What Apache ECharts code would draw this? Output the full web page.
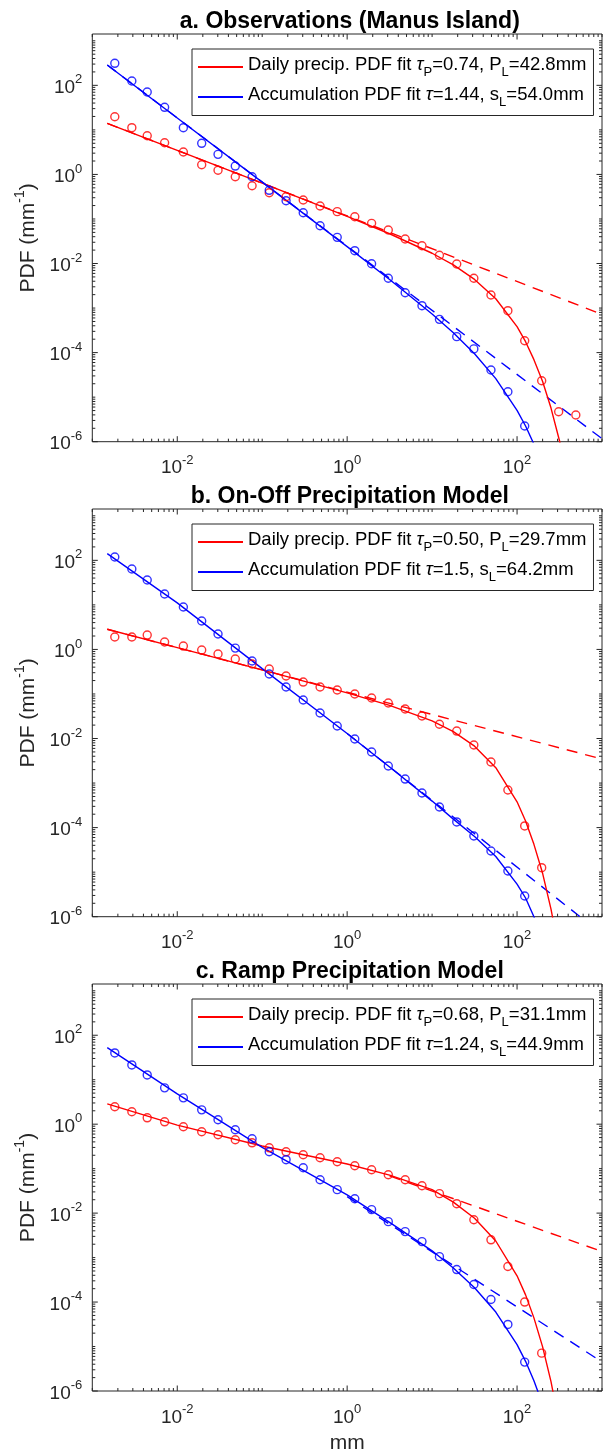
<!DOCTYPE html>
<html><head><meta charset="utf-8">
<script src="https://cdn.jsdelivr.net/npm/echarts@6/dist/echarts.min.js"></script>
<style>html,body{margin:0;padding:0;background:#fff}#c{width:605px;height:1455px}</style>
</head><body><div id="c"></div>
<script>
// ---------------- data ----------------
const binX = [0.00184, 0.00292, 0.00443, 0.0071, 0.0118, 0.0194, 0.0302, 0.0482, 0.076, 0.121, 0.191, 0.304, 0.48, 0.764, 1.23, 1.94, 3.05, 4.82, 7.6, 12.2, 19.5, 31.0, 49.3, 78.0, 123, 195, 309, 492];
const fitX = [0.0015, 0.01, 0.1, 1, 3.16, 10, 17.8, 31.6, 56.2, 100, 126, 158, 200, 251, 316, 398];

// a. Observations
const aDailyObs = [19.7, 11.2, 7.4, 5.15, 3.18, 1.65, 1.24, 0.887, 0.557, 0.388, 0.316, 0.266, 0.195, 0.146, 0.112, 0.0798, 0.0565, 0.0355, 0.0251, 0.0153, 0.00975, 0.00466, 0.00196, 8.73e-4, 1.85e-4, 2.34e-5, 4.71e-6, 3.97e-6];
const aAccObs = [312, 125, 70.8, 32.1, 11.2, 4.99, 2.82, 1.54, 0.887, 0.44, 0.257, 0.138, 0.0705, 0.0387, 0.0194, 0.0099, 0.00466, 0.00221, 0.00113, 5.58e-4, 2.28e-4, 1.21e-4, 4.06e-5, 1.32e-5, 2.25e-6];
const aDailyFit = [14.0, 3.47, 0.635, 0.114, 0.0466, 0.017, 0.00929, 0.0044, 0.00162, 3.82e-4, 1.76e-4, 6.95e-5, 2.25e-5, 5.69e-6, 1.05e-6, 1.3e-7];
const aAccFit = [286, 18.5, 0.671, 0.024, 0.00439, 7.38e-4, 2.79e-4, 9.42e-5, 2.61e-5, 5.06e-6, 2.25e-6, 8.8e-7, 2.9e-7, 5e-8, 5e-9, 1e-10];
const aDailyPowX = [0.0015, 1000], aDailyPow = [14.0, 7.24e-4];
const aAccPowX = [0.0015, 1000], aAccPow = [286, 1.17e-6];

// b. On-Off model
const bDailyObs = [1.9, 1.9, 2.1, 1.47, 1.19, 0.968, 0.789, 0.61, 0.47, 0.363, 0.253, 0.185, 0.143, 0.123, 0.0998, 0.0811, 0.0627, 0.0459, 0.032, 0.0209, 0.0147, 0.00714, 0.00297, 6.98e-4, 1.09e-4, 1.26e-5];
const bAccObs = [119, 63.8, 36.1, 17.5, 8.95, 4.34, 2.22, 1.07, 0.55, 0.281, 0.143, 0.0731, 0.0373, 0.0191, 0.00975, 0.00498, 0.00242, 0.00123, 5.98e-4, 2.9e-4, 1.34e-4, 6.47e-5, 2.99e-5, 1.06e-5, 2.92e-6];
const bDailyFit = [2.83, 1.1, 0.347, 0.106, 0.0555, 0.0248, 0.0143, 0.00673, 0.00221, 3.79e-4, 1.41e-4, 4.21e-5, 9.42e-6, 1.48e-6, 1.5e-7, 1e-9];
const bAccFit = [141, 11.1, 0.371, 0.013, 0.0023, 3.94e-4, 1.55e-4, 6.3e-5, 2.24e-5, 5.4e-6, 2.63e-6, 1.0e-6, 3.2e-7, 1e-8, 1e-9, 1e-10];
const bDailyPowX = [0.0015, 1000], bDailyPow = [2.83, 3.47e-3];
const bAccPowX = [1, 1000], bAccPow = [0.013, 4.1e-7];

// c. Ramp model
const cDailyObs = [2.46, 1.9, 1.39, 1.13, 0.875, 0.675, 0.578, 0.447, 0.381, 0.294, 0.239, 0.205, 0.176, 0.143, 0.116, 0.0944, 0.0729, 0.0564, 0.0413, 0.0274, 0.0163, 0.00708, 0.00251, 6.3e-4, 1.0e-4, 7.1e-6];
const cAccObs = [40.0, 21.5, 12.8, 6.56, 3.91, 2.1, 1.26, 0.748, 0.47, 0.24, 0.159, 0.105, 0.0564, 0.0337, 0.0211, 0.012, 0.00643, 0.00384, 0.00229, 0.00105, 5.38e-4, 2.48e-4, 1.14e-4, 3.14e-5, 4.47e-6];
const cDailyFit = [2.87, 0.955, 0.324, 0.127, 0.0714, 0.0337, 0.0177, 0.00767, 0.00236, 3.89e-4, 1.45e-4, 4.41e-5, 9.8e-6, 1.62e-6, 1.7e-7, 1e-9];
const cAccFit = [52.5, 4.79, 0.302, 0.0257, 0.00617, 0.00142, 5.85e-4, 2.1e-4, 5.97e-5, 1.1e-5, 4.65e-6, 1.7e-6, 5e-7, 1e-8, 1e-9, 1e-10];
const cDailyPowX = [3.16, 1000], cDailyPow = [0.0686, 1.37e-3];
const cAccPowX = [1, 1000], cAccPow = [0.0235, 4.48e-6];

const titles = ['a. Observations (Manus Island)', 'b. On-Off Precipitation Model', 'c. Ramp Precipitation Model'];
const legendDaily = [['0.74', '42.8'], ['0.50', '29.7'], ['0.68', '31.1']];
const legendAcc = [['1.44', '54.0'], ['1.5', '64.2'], ['1.24', '44.9']];
const xLabelExps = [-2, 0, 2];
const yLabelExps = [-6, -4, -2, 0, 2];

// ---------------- layout ----------------
const X_MIN = 0.001, X_MAX = 1000, Y_MIN = 1e-6, Y_MAX = 1420;
const GL = 92.3, GW = 515, GH = 407.7, STEP = 475, TOP0 = 34;
const FONT = '"Liberation Sans", Arial, Helvetica, sans-serif';
const RED = '#ff0000', BLUE = '#0000ff', AX = '#262626';

const zip = (xs, ys) => ys.map((y, i) => [xs[i], y]);
function supLabel(v, exps) {
  const l = Math.log10(v), e = Math.round(l);
  if (Math.abs(l - e) > 1e-6 || exps.indexOf(e) < 0) return '';
  return '{b|10}{s|' + e + '}';
}
const supRich = {
  b: {fontSize: 19, fontFamily: FONT, color: AX, lineHeight: 24, verticalAlign: 'bottom'},
  s: {fontSize: 13, fontFamily: FONT, color: AX, verticalAlign: 'top'}
};

// tick positions
const mult = [1, 2, 3, 4, 5, 6, 7, 8, 9];
const tickData = [];
for (let e = -3; e <= 3; e++) {
  for (const m of mult) {
    const v = m * Math.pow(10, e);
    if (v > X_MAX * 1.0001) continue;
    tickData.push([v, Y_MIN, 0, (m === 1 && xLabelExps.indexOf(e) >= 0) ? 1 : 0]);
  }
}
for (let e = -6; e <= 3; e++) {
  for (const m of mult) {
    const v = m * Math.pow(10, e);
    if (v > Y_MAX) continue;
    tickData.push([X_MIN, v, 1, (m === 1 && yLabelExps.indexOf(e) >= 0) ? 1 : 0]);
  }
}

function renderTick(params, api) {
  const kind = api.value(2), major = api.value(3);
  const len = major ? 5.5 : 3;
  const st = {stroke: AX, lineWidth: 1};
  if (kind === 0) {
    const v = api.value(0);
    const pb = api.coord([v, Y_MIN]), pt = api.coord([v, Y_MAX]);
    return {type: 'group', children: [
      {type: 'line', shape: {x1: pb[0], y1: pb[1], x2: pb[0], y2: pb[1] - len}, style: st},
      {type: 'line', shape: {x1: pt[0], y1: pt[1], x2: pt[0], y2: pt[1] + len}, style: st}
    ]};
  } else {
    const v = api.value(1);
    const pl = api.coord([X_MIN, v]), pr = api.coord([X_MAX, v]);
    return {type: 'group', children: [
      {type: 'line', shape: {x1: pl[0], y1: pl[1], x2: pl[0] + len, y2: pl[1]}, style: st},
      {type: 'line', shape: {x1: pr[0], y1: pr[1], x2: pr[0] - len, y2: pr[1]}, style: st}
    ]};
  }
}

const panels = [
  {dObs: aDailyObs, aObs: aAccObs, dFit: aDailyFit, aFit: aAccFit, dPow: zip(aDailyPowX, aDailyPow), aPow: zip(aAccPowX, aAccPow)},
  {dObs: bDailyObs, aObs: bAccObs, dFit: bDailyFit, aFit: bAccFit, dPow: zip(bDailyPowX, bDailyPow), aPow: zip(bAccPowX, bAccPow)},
  {dObs: cDailyObs, aObs: cAccObs, dFit: cDailyFit, aFit: cAccFit, dPow: zip(cDailyPowX, cDailyPow), aPow: zip(cAccPowX, cAccPow)}
];

const grid = [], xAxis = [], yAxis = [], series = [], title = [], legend = [];
const LF = 18.5;
const legendRich = {
  n: {fontSize: LF, fontFamily: FONT, color: '#000', verticalAlign: 'top'},
  t: {fontSize: LF, fontFamily: FONT, fontStyle: 'italic', color: '#000', verticalAlign: 'top'},
  sub: {fontSize: 13, fontFamily: FONT, color: '#000', verticalAlign: 'bottom', lineHeight: 23}
};
const names = {};
panels.forEach((p, i) => {
  const top = TOP0 + STEP * i;
  grid.push({left: GL, top: top, width: GW, height: GH, show: true, borderColor: AX, borderWidth: 1, backgroundColor: 'transparent'});
  xAxis.push({
    type: 'log', logBase: 10, gridIndex: i, min: X_MIN, max: X_MAX,
    axisLine: {show: false}, axisTick: {show: false}, splitLine: {show: false}, minorTick: {show: false},
    axisLabel: {margin: 12, formatter: v => supLabel(v, xLabelExps), rich: supRich},
    name: i === 2 ? 'mm' : '', nameLocation: 'middle', nameGap: 42,
    nameTextStyle: {fontSize: 21, fontFamily: FONT, color: AX}
  });
  yAxis.push({
    type: 'log', logBase: 10, gridIndex: i, min: Y_MIN, max: Y_MAX,
    axisLine: {show: false}, axisTick: {show: false}, splitLine: {show: false}, minorTick: {show: false},
    axisLabel: {margin: 10, formatter: v => supLabel(v, yLabelExps), rich: supRich},
    name: '{n|PDF (mm}{s|-1}{n|)}', nameLocation: 'middle', nameGap: 52, nameRotate: 90,
    nameTextStyle: {rich: {
      n: {fontSize: 21, fontFamily: FONT, color: AX, lineHeight: 26, verticalAlign: 'bottom'},
      s: {fontSize: 14, fontFamily: FONT, color: AX, verticalAlign: 'top'}
    }}
  });
  title.push({text: titles[i], left: GL + GW / 2, textAlign: 'center', top: 9 + STEP * i, padding: 0,
    textStyle: {fontSize: 23, fontWeight: 'bold', fontFamily: FONT, color: '#000', lineHeight: 25}});
  const dn = 'daily' + i, an = 'acc' + i;
  names[dn] = '{n|Daily precip. PDF fit }{t|τ}{sub|P}{n|=' + legendDaily[i][0] + ', P}{sub|L}{n|=' + legendDaily[i][1] + 'mm}';
  names[an] = '{n|Accumulation PDF fit }{t|τ}{n|=' + legendAcc[i][0] + ', s}{sub|L}{n|=' + legendAcc[i][1] + 'mm}';
  legend.push({
    data: [dn, an], orient: 'vertical', left: 192, top: 49 + STEP * i,
    padding: [6.5, 7, 7, 6], itemGap: 7, itemWidth: 45, itemHeight: 2, icon: 'rect',
    borderColor: AX, borderWidth: 1, backgroundColor: '#fff',
    formatter: n => names[n], textStyle: {rich: legendRich}, selectedMode: false
  });
  const lw = 1.4;
  series.push(
    {type: 'line', name: 'dpow' + i, xAxisIndex: i, yAxisIndex: i, data: p.dPow, showSymbol: false, z: 2,
      lineStyle: {color: RED, width: lw, type: [11, 8]}, itemStyle: {color: RED}, silent: true},
    {type: 'line', name: 'apow' + i, xAxisIndex: i, yAxisIndex: i, data: p.aPow, showSymbol: false, z: 2,
      lineStyle: {color: BLUE, width: lw, type: [11, 8]}, itemStyle: {color: BLUE}, silent: true},
    {type: 'line', name: dn, xAxisIndex: i, yAxisIndex: i, data: zip(fitX, p.dFit), showSymbol: false, z: 3,
      lineStyle: {color: RED, width: lw}, itemStyle: {color: RED}, silent: true},
    {type: 'line', name: an, xAxisIndex: i, yAxisIndex: i, data: zip(fitX, p.aFit), showSymbol: false, z: 3,
      lineStyle: {color: BLUE, width: lw}, itemStyle: {color: BLUE}, silent: true},
    {type: 'scatter', name: 'dobs' + i, xAxisIndex: i, yAxisIndex: i, data: zip(binX, p.dObs), symbol: 'circle', symbolSize: 8, z: 4,
      itemStyle: {color: 'rgba(0,0,0,0)', borderColor: RED, borderWidth: 1.4}, silent: true},
    {type: 'scatter', name: 'aobs' + i, xAxisIndex: i, yAxisIndex: i, data: zip(binX, p.aObs), symbol: 'circle', symbolSize: 8, z: 4,
      itemStyle: {color: 'rgba(0,0,0,0)', borderColor: BLUE, borderWidth: 1.4}, silent: true},
    {type: 'custom', name: 'ticks' + i, xAxisIndex: i, yAxisIndex: i, data: tickData, renderItem: renderTick, clip: false, z: 5, silent: true}
  );
});

const chart = echarts.init(document.getElementById('c'), null, {renderer: 'canvas'});
chart.setOption({animation: false, backgroundColor: '#fff', title, legend, grid, xAxis, yAxis, series});
</script></body></html>
